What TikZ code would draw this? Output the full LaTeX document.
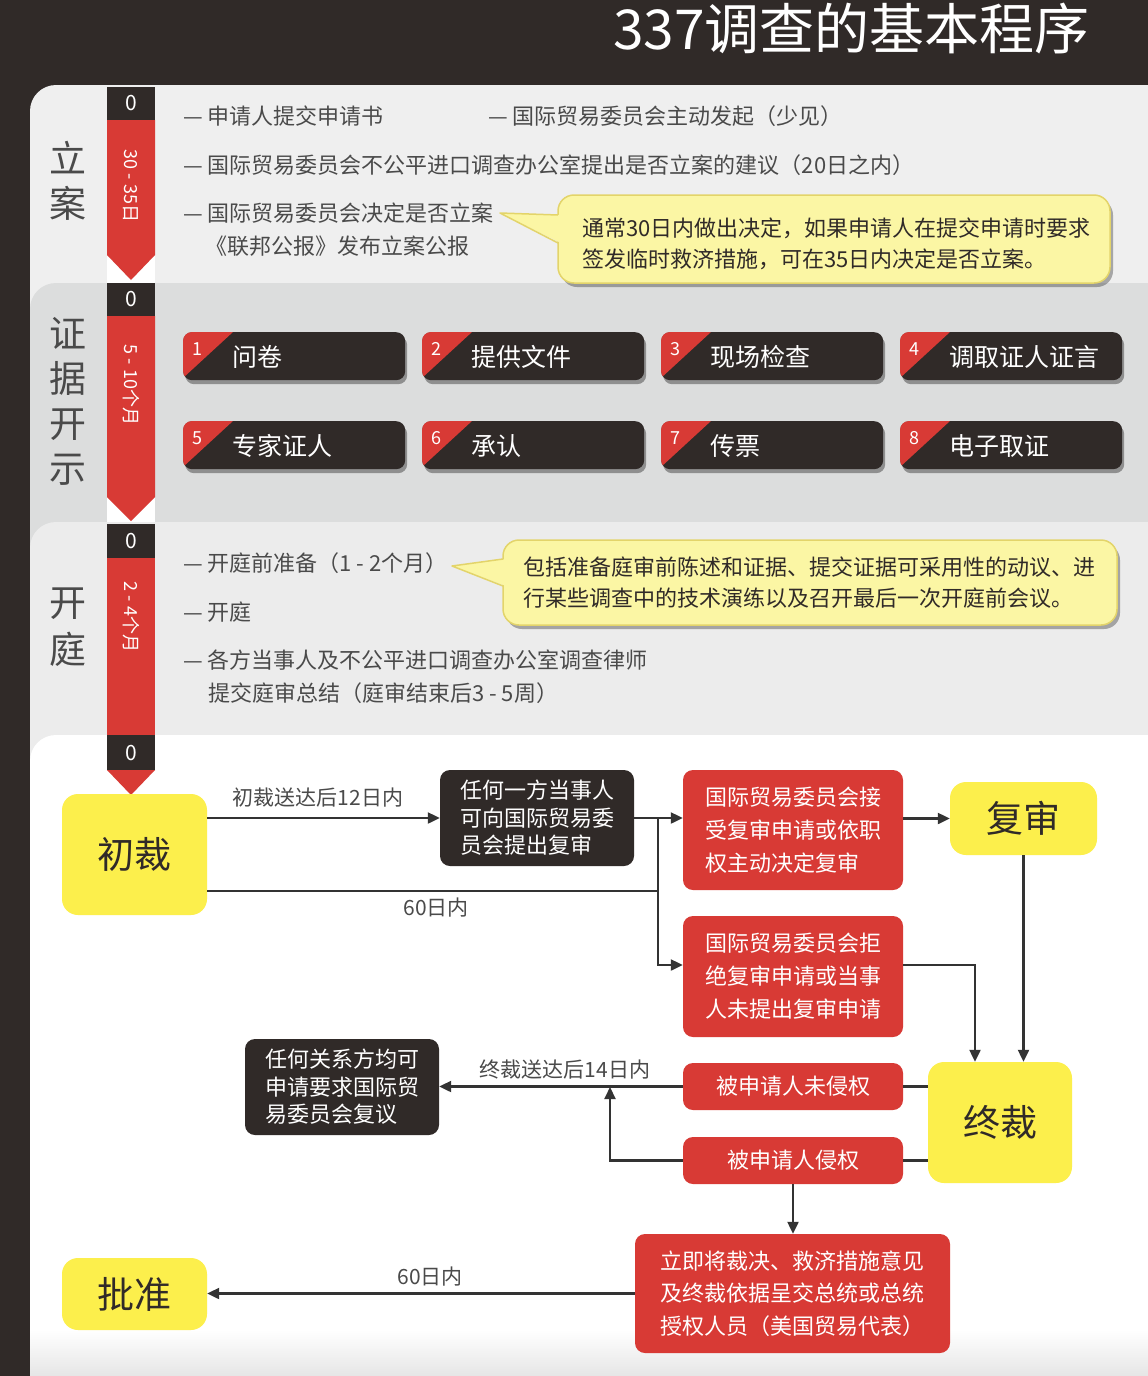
\documentclass[tikz,border=0pt]{standalone}
\usepackage{fontspec}
\setmainfont{Noto Sans CJK SC}
\usetikzlibrary{arrows.meta,shadows}
\definecolor{bgdark}{HTML}{302A28}
\definecolor{crd}{HTML}{D83A35}
\definecolor{cyel}{HTML}{FCEF4C}
\definecolor{ccall}{HTML}{FBF6A4}
\definecolor{ccallb}{HTML}{E3D46A}
\definecolor{pone}{HTML}{EFEFEF}
\definecolor{ptwo}{HTML}{DCDDDD}
\definecolor{pthree}{HTML}{ECECEC}
\definecolor{txtg}{HTML}{4A4A4A}
\definecolor{lnc}{HTML}{333333}
\newcommand\evbox[4]{%
  \node[evb, anchor=north west] (ev#1) at (#2,#3) {};
  \begin{scope}
    \clip[rounded corners=9pt] (#2,#3) rectangle ++(222,48);
    \fill[crd] (#2,#3) -- ++(50,0) -- ++(-50,46) -- cycle;
  \end{scope}
  \node[evnum] (evn#1) at ({#2+14},{#3+17}) {#1};
  \node[evtxt] (evt#1) at ({#2+49},{#3+25}) {#4};
}
\begin{document}
\begin{tikzpicture}[x=1pt,y=-1pt,
  ptxt/.style={anchor=west, inner sep=0pt, text=txtg, font=\fontsize{22}{25}\selectfont},
  vlab/.style={inner sep=0pt, text=txtg, align=center},
  bar0/.style={inner sep=0pt, text=white, font=\fontsize{21}{24}\selectfont},
  bartxt/.style={inner sep=0pt, text=white, rotate=-90, font=\fontsize{18}{20}\selectfont},
  evb/.style={fill=bgdark, rounded corners=9pt, minimum width=222pt, minimum height=48pt, inner sep=0pt,
     drop shadow={shadow xshift=2pt, shadow yshift=-4pt, opacity=.35, fill=black}},
  evnum/.style={inner sep=0pt, text=white, font=\fontsize{18}{20}\selectfont},
  evtxt/.style={anchor=west, inner sep=0pt, text=white, font=\fontsize{25}{28}\selectfont},
  ctxt/.style={anchor=west, inner sep=0pt, align=left, text=bgdark, font=\fontsize{22}{31}\selectfont},
  ybox/.style={fill=cyel, rounded corners=16pt, inner sep=0pt, text=bgdark, font=\fontsize{37}{40}\selectfont},
  rbox/.style={fill=crd, rounded corners=10pt, inner sep=0pt, text=white, align=left, font=\fontsize{22}{33}\selectfont},
  dbox/.style={fill=bgdark, rounded corners=10pt, inner sep=0pt, text=white, align=left, font=\fontsize{22}{27.5}\selectfont},
  flab/.style={inner sep=0pt, text=txtg, font=\fontsize{21}{24}\selectfont},
  ln/.style={draw=lnc, line width=2.2pt},
  arr/.style={draw=lnc, line width=2.2pt, -{Triangle[length=12pt,width=11pt]}},
]
\useasboundingbox (0,0) rectangle (1148,1376);
% background and panels
\fill[bgdark] (0,0) rectangle (1148,1376);
\fill[pone] (30,85) [rounded corners=26pt] rectangle (1200,1450);
\fill[ptwo] (30,283) [rounded corners=26pt] rectangle (1200,1450);
\fill[pthree] (30,522) [rounded corners=26pt] rectangle (1200,1450);
\fill[white] (30,735) [rounded corners=26pt] rectangle (1200,1450);
\shade[top color=white, bottom color=black!10] (30,1330) rectangle (1148,1376);

% title
\node[anchor=base east, inner sep=0pt, text=white, font=\fontsize{55}{58}\selectfont] (title) at (1090,49) {337调查的基本程序};

% side labels
\node[vlab, font=\fontsize{37}{45}\selectfont] (lab1) at (68,181) {立\\案};
\node[vlab, font=\fontsize{37}{45}\selectfont] (lab2) at (68,401) {证\\据\\开\\示};
\node[vlab, font=\fontsize{37}{47}\selectfont] (lab3) at (68,627) {开\\庭};

% timeline bar
\fill[white] (107,250) rectangle (155,283);
\fill[white] (107,492) rectangle (155,522);
\fill[bgdark] (107,87) rectangle (155,120);
\fill[crd] (107,120) -- (155,120) -- (155,255) -- (131,280) -- (107,255) -- cycle;
\fill[bgdark] (107,283) rectangle (155,316);
\fill[crd] (107,316) -- (155,316) -- (155,497) -- (131,521) -- (107,497) -- cycle;
\fill[bgdark] (107,524) rectangle (155,558);
\fill[crd] (107,558) rectangle (155,735);
\fill[bgdark] (107,735) rectangle (155,770);
\fill[crd] (107,770) -- (155,770) -- (131,795) -- cycle;
\node[bar0] (z1) at (131,103) {0};
\node[bar0] (z2) at (131,299) {0};
\node[bar0] (z3) at (131,541) {0};
\node[bar0] (z4) at (131,753) {0};
\node[bartxt] (b1) at (131,186) {30 - 35日};
\node[bartxt] (b2) at (131,385) {5 - 10个月};
\node[bartxt] (b3) at (131,617) {2 - 4个月};

% panel 1 texts
\node[ptxt] (t1a) at (183,116) {— 申请人提交申请书};
\node[ptxt] (t1b) at (488,116) {— 国际贸易委员会主动发起（少见）};
\node[ptxt] (t1c) at (183,165) {— 国际贸易委员会不公平进口调查办公室提出是否立案的建议（20日之内）};
\node[ptxt] (t1d) at (183,213) {— 国际贸易委员会决定是否立案};
\node[ptxt] (t1e) at (205,246) {《联邦公报》发布立案公报};
% callout 1
\path[fill=ccall, draw=ccallb, line width=1.5pt, rounded corners=16pt,
  drop shadow={shadow xshift=3pt, shadow yshift=-4pt, opacity=.3, fill=black}] (558,195) rectangle (1110,283);
\fill[ccall] (500,213) -- (561,215) -- (561,243) -- cycle;
\draw[ccallb, line width=1.5pt, line join=round] (558,215) -- (500,213) -- (558,243);
\node[ctxt] (c1) at (582,243.5) {通常30日内做出决定，如果申请人在提交申请时要求\\签发临时救济措施，可在35日内决定是否立案。};

% panel 2 boxes
\evbox{1}{183}{332}{问卷}
\evbox{2}{422}{332}{提供文件}
\evbox{3}{661}{332}{现场检查}
\evbox{4}{900}{332}{调取证人证言}
\evbox{5}{183}{421}{专家证人}
\evbox{6}{422}{421}{承认}
\evbox{7}{661}{421}{传票}
\evbox{8}{900}{421}{电子取证}

% panel 3 texts
\node[ptxt] (t3a) at (183,563) {— 开庭前准备（1 - 2个月）};
\node[ptxt] (t3b) at (183,612) {— 开庭};
\node[ptxt] (t3c) at (183,660) {— 各方当事人及不公平进口调查办公室调查律师};
\node[ptxt] (t3d) at (208,693) {提交庭审总结（庭审结束后3 - 5周）};
% callout 2
\path[fill=ccall, draw=ccallb, line width=1.5pt, rounded corners=16pt,
  drop shadow={shadow xshift=3pt, shadow yshift=-4pt, opacity=.3, fill=black}] (503,540) rectangle (1117,625);
\fill[ccall] (452,566) -- (506,559) -- (506,586) -- cycle;
\draw[ccallb, line width=1.5pt, line join=round] (503,559) -- (452,566) -- (503,586);
\node[ctxt] (c2) at (523,583) {包括准备庭审前陈述和证据、提交证据可采用性的动议、进\\行某些调查中的技术演练以及召开最后一次开庭前会议。};

% flow nodes
\node[ybox, minimum width=145pt, minimum height=121pt] (chucai) at (134.5,854.5) {初裁};
\node[dbox, minimum width=194pt, minimum height=96pt] (dk1) at (537,818) {任何一方当事人\\可向国际贸易委\\员会提出复审};
\node[rbox, minimum width=220pt, minimum height=120pt] (rd1) at (793,830) {国际贸易委员会接\\受复审申请或依职\\权主动决定复审};
\node[ybox, minimum width=147pt, minimum height=73pt] (fushen) at (1023.5,818.5) {复审};
\node[rbox, minimum width=220pt, minimum height=121pt] (rd2) at (793,976.5) {国际贸易委员会拒\\绝复审申请或当事\\人未提出复审申请};
\node[ybox, minimum width=144pt, minimum height=121pt] (zhongcai) at (1000,1122.5) {终裁};
\node[rbox, align=center, minimum width=220pt, minimum height=47pt] (rd3) at (793,1086.5) {被申请人未侵权};
\node[rbox, align=center, minimum width=220pt, minimum height=47pt] (rd4) at (793,1160.5) {被申请人侵权};
\node[dbox, minimum width=194pt, minimum height=96pt] (dk2) at (342,1087) {任何关系方均可\\申请要求国际贸\\易委员会复议};
\node[rbox, minimum width=315pt, minimum height=119pt, font=\fontsize{22}{32.5}\selectfont] (rd5) at (792.5,1293.5) {立即将裁决、救济措施意见\\及终裁依据呈交总统或总统\\授权人员（美国贸易代表）};
\node[ybox, minimum width=145pt, minimum height=72pt] (pizhun) at (134.5,1294) {批准};

% junctions
\coordinate (jtop) at (658,818);
\coordinate (jmid) at (658,891);
\coordinate (jbot) at (658,965);
\coordinate (jup) at (610,1087);

% connectors
\draw[arr] (chucai.east |- dk1.west) -- (dk1.west);
\draw[ln] (chucai.east |- jmid) -- (jmid);
\draw[arr] (dk1.east) -- (rd1.west |- dk1.east);
\draw[arr] (jtop) -- (jbot) -- (rd2.west |- jbot);
\draw[arr] (rd1.east |- fushen.west) -- (fushen.west);
\draw[arr] (fushen.south) -- (zhongcai.north -| fushen.south);
\draw[arr] (rd2.east |- jbot) -| ([xshift=-25pt]zhongcai.north);
\draw[ln] (rd3.east) -- (zhongcai.west |- rd3.east);
\draw[ln] (rd4.east) -- (zhongcai.west |- rd4.east);
\draw[arr] (rd3.west) -- (dk2.east |- rd3.west);
\draw[arr] (rd4.west) -| (jup);
\draw[arr] (rd4.south) -- (rd5.north -| rd4.south);
\draw[arr] (rd5.west) -- (pizhun.east |- rd5.west);

% flow labels
\node[flab] (l1) at (318,798) {初裁送达后12日内};
\node[flab] (l2) at (436,908) {60日内};
\node[flab] (l3) at (565,1070) {终裁送达后14日内};
\node[flab] (l4) at (430,1277) {60日内};
\end{tikzpicture}
\end{document}
